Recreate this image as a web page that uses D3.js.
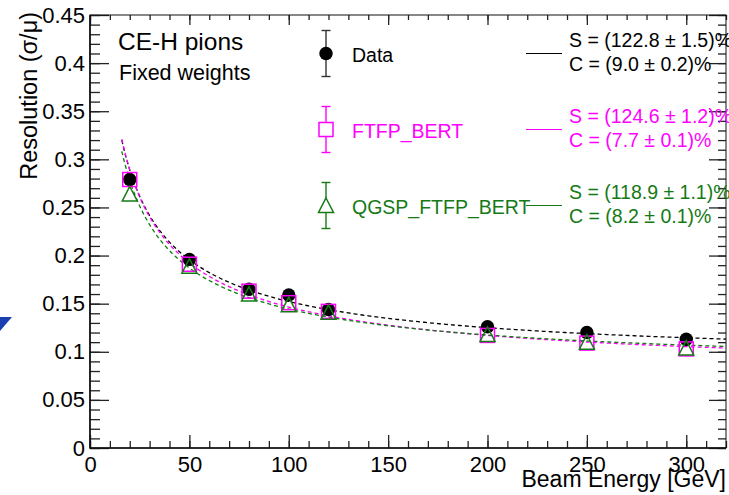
<!DOCTYPE html>
<html>
<head>
    <title>CE-H pions resolution</title>
    <style>
        body { margin: 0; background: #fff; }
        text { font-family: "Liberation Sans", Arial, Helvetica, sans-serif; }
        .axis path { display: none; }
        .axis line { stroke: #222; stroke-width: 1.3px; }
        .axis text { font-size: 22px; fill: #000; }
        .fit { fill: none; stroke-width: 1.3px; stroke-dasharray: 4,3; }
    </style>
</head>
<body>
    <svg width="729" height="495"></svg>

    <script src="https://d3js.org/d3.v7.min.js"></script>
    <script>
        // Beam energies (GeV)
        var energies = [20, 50, 80, 100, 120, 200, 250, 300];

        // Resolution values
        var dataRes = [0.279, 0.196, 0.165, 0.159, 0.144, 0.126, 0.120, 0.113];
        var ftfpRes = [0.279, 0.191, 0.163, 0.151, 0.142, 0.117, 0.109, 0.103];
        var qgspRes = [0.264, 0.189, 0.160, 0.149, 0.141, 0.118, 0.110, 0.104];

        // Fit parameters (percent) shown in the legend
        var seriesNames = ["Data", "FTFP_BERT", "QGSP_FTFP_BERT"];
        var fitS = [122.8, 124.6, 118.9];
        var fitSErr = [1.5, 1.2, 1.1];
        var fitC = [9.0, 7.7, 8.2];
        var fitCErr = [0.2, 0.1, 0.1];

        // Tick labels
        var xTicks = [0, 50, 100, 150, 200, 250, 300];
        var yTicks = [0, 0.05, 0.1, 0.15, 0.2, 0.25, 0.3, 0.35, 0.4, 0.45];
        var yTickLabels = ["0", "0.05", "0.1", "0.15", "0.2", "0.25", "0.3", "0.35", "0.4", "0.45"];

        var colors = ["#000000", "#ff00ff", "#157a15"];
        var shapes = ["circle", "square", "triangle"];

        var svg = d3.select("svg");

        var x = d3.scaleLinear().domain([0, 320]).range([90, 726]);
        var y = d3.scaleLinear().domain([0, 0.45]).range([448, 15]);

        // Blue arrow fragment at the left edge
        svg.append("path")
            .attr("d", "M-13,317 L12,317 L0,331 Z")
            .attr("fill", "#1a3fb0");

        var xMinor = d3.range(0, 321, 10);
        var yMinor = d3.range(0, 0.4501, 0.01);

        // Bottom axis
        svg.append("g").attr("class", "axis")
            .attr("transform", "translate(0,448)")
            .call(d3.axisBottom(x).tickValues(xMinor).tickSize(-7).tickFormat(""));
        svg.append("g").attr("class", "axis")
            .attr("transform", "translate(0,448)")
            .call(d3.axisBottom(x).tickValues(xTicks).tickSize(-13).tickPadding(8).tickFormat(d3.format("d")));

        // Top axis (ticks only)
        svg.append("g").attr("class", "axis")
            .attr("transform", "translate(0,15)")
            .call(d3.axisTop(x).tickValues(xMinor).tickSize(-5).tickFormat(""));
        svg.append("g").attr("class", "axis")
            .attr("transform", "translate(0,15)")
            .call(d3.axisTop(x).tickValues(xTicks).tickSize(-10).tickFormat(""));

        // Left axis
        svg.append("g").attr("class", "axis")
            .attr("transform", "translate(90,0)")
            .call(d3.axisLeft(y).tickValues(yMinor).tickSize(-10).tickFormat(""));
        svg.append("g").attr("class", "axis")
            .attr("transform", "translate(90,0)")
            .call(d3.axisLeft(y).tickValues(yTicks).tickSize(-19).tickPadding(5)
                .tickFormat(function(d, i) { return yTickLabels[i]; }));

        // Right axis (ticks only)
        svg.append("g").attr("class", "axis")
            .attr("transform", "translate(726,0)")
            .call(d3.axisRight(y).tickValues(yMinor).tickSize(-8).tickFormat(""));
        svg.append("g").attr("class", "axis")
            .attr("transform", "translate(726,0)")
            .call(d3.axisRight(y).tickValues(yTicks).tickSize(-17).tickFormat(""));

        // Frame
        svg.append("rect")
            .attr("x", x(0)).attr("y", y(0.45))
            .attr("width", x(320) - x(0)).attr("height", y(0) - y(0.45))
            .attr("fill", "none").attr("stroke", "#111").attr("stroke-width", 1);
        svg.append("path")
            .attr("d", "M" + x(0) + "," + y(0.45) + "V" + y(0) + "H" + x(320))
            .attr("fill", "none").attr("stroke", "#111").attr("stroke-width", 1.6);

        // Axis titles
        svg.append("text")
            .attr("transform", "translate(37,12) rotate(-90)")
            .attr("text-anchor", "end")
            .style("font-size", "23.5px")
            .text("Resolution (σ/μ)");

        svg.append("text")
            .attr("x", 726).attr("y", 487)
            .attr("text-anchor", "end")
            .style("font-size", "23px")
            .text("Beam Energy [GeV]");

        svg.append("text")
            .attr("x", 118).attr("y", 50)
            .style("font-size", "24.5px")
            .text("CE-H pions");

        svg.append("text")
            .attr("x", 119).attr("y", 80)
            .style("font-size", "21.5px")
            .text("Fixed weights");

        // Fit curves: sigma/E = S/sqrt(E) (+) C
        var fitE = d3.range(16, 320.5, 1);
        var fitLine = d3.line()
            .x(function(d) { return x(d[0]); })
            .y(function(d) { return y(d[1]); });

        fitS.forEach(function(s, i) {
            var S = s / 100, C = fitC[i] / 100;
            var pts = fitE.map(function(e) { return [e, Math.sqrt(S * S / e + C * C)]; });
            svg.append("path")
                .datum(pts)
                .attr("class", "fit")
                .attr("stroke", colors[i])
                .attr("d", fitLine);
        });

        // Marker drawing
        function drawMarker(g, shape, color) {
            if (shape === "circle") {
                g.append("circle").attr("r", 6.7).attr("fill", color);
            } else if (shape === "square") {
                g.append("rect").attr("x", -7).attr("y", -7)
                    .attr("width", 14).attr("height", 14)
                    .attr("fill", "none").attr("stroke", color).attr("stroke-width", 1.5);
            } else {
                g.append("path").attr("d", "M0,-7.5L7.5,7L-7.5,7Z")
                    .attr("fill", "none").attr("stroke", color).attr("stroke-width", 1.5);
            }
        }

        var allSeries = [dataRes, ftfpRes, qgspRes];
        allSeries.forEach(function(vals, i) {
            svg.append("g")
                .selectAll("g")
                .data(energies)
                .enter().append("g")
                .attr("transform", function(d, j) { return "translate(" + x(d) + "," + y(vals[j]) + ")"; })
                .each(function() { drawMarker(d3.select(this), shapes[i], colors[i]); });
        });

        // Legend
        var legendY = [53.5, 129.5, 205.5];
        var legendFmt = d3.format(".1f");

        seriesNames.forEach(function(name, i) {
            var ly = legendY[i];
            var g = svg.append("g").attr("transform", "translate(326," + ly + ")");
            var gap = shapes[i] === "circle" ? 0 : 7.5;
            var errColor = i === 0 ? "#333" : colors[i];

            g.append("line").attr("x1", 0).attr("x2", 0).attr("y1", -23).attr("y2", -gap)
                .attr("stroke", errColor).attr("stroke-width", 1.4);
            g.append("line").attr("x1", 0).attr("x2", 0).attr("y1", gap).attr("y2", 23)
                .attr("stroke", errColor).attr("stroke-width", 1.4);
            g.append("line").attr("x1", -4.5).attr("x2", 4.5).attr("y1", -23).attr("y2", -23)
                .attr("stroke", errColor).attr("stroke-width", 1.4);
            g.append("line").attr("x1", -4.5).attr("x2", 4.5).attr("y1", 23).attr("y2", 23)
                .attr("stroke", errColor).attr("stroke-width", 1.4);
            drawMarker(g, shapes[i], colors[i]);

            svg.append("text")
                .attr("x", 352).attr("y", ly + 8)
                .style("font-size", "19.5px")
                .attr("fill", colors[i])
                .text(name);

            svg.append("line")
                .attr("x1", 526).attr("x2", 562)
                .attr("y1", ly).attr("y2", ly)
                .attr("stroke", colors[i]).attr("stroke-width", 1.1);

            svg.append("text")
                .attr("x", 569).attr("y", ly - 6.5)
                .style("font-size", "19.5px")
                .attr("fill", colors[i])
                .text("S = (" + legendFmt(fitS[i]) + " ± " + legendFmt(fitSErr[i]) + ")%");

            svg.append("text")
                .attr("x", 569).attr("y", ly + 17.5)
                .style("font-size", "19.5px")
                .attr("fill", colors[i])
                .text("C = (" + legendFmt(fitC[i]) + " ± " + legendFmt(fitCErr[i]) + ")%");
        });
    </script>
</body>
</html>
